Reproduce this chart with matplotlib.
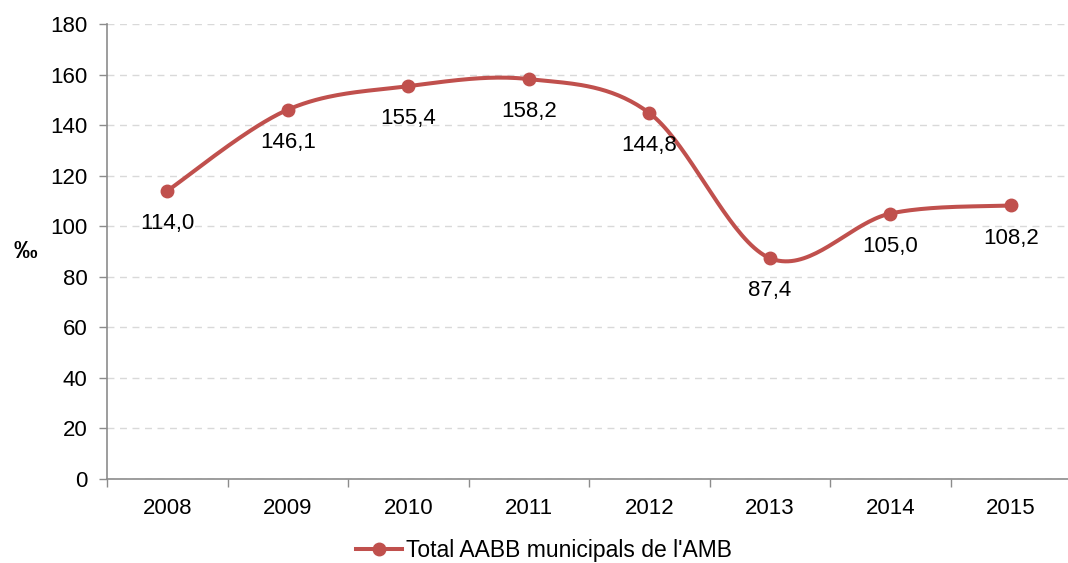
import numpy as np
import matplotlib
matplotlib.use("Agg")
import matplotlib.pyplot as plt

plt.rcParams['font.family'] = ['Liberation Sans', 'DejaVu Sans']

# Dades
anys = ['2008', '2009', '2010', '2011', '2012', '2013', '2014', '2015']
valors = [114.0, 146.1, 155.4, 158.2, 144.8, 87.4, 105.0, 108.2]
etiquetes = ['114,0', '146,1', '155,4', '158,2', '144,8', '87,4', '105,0', '108,2']
serie = "Total AABB municipals de l'AMB"

color = '#C0504D'

# Corba suavitzada (Catmull-Rom, com la línia suavitzada d'Excel)
def suavitza(x, y, n=40):
    x = np.asarray(x, float)
    y = np.asarray(y, float)
    px = np.concatenate([[x[0]], x, [x[-1]]])
    py = np.concatenate([[y[0]], y, [y[-1]]])
    xs, ys = [], []
    t = np.linspace(0, 1, n)
    for i in range(1, len(px) - 2):
        p0, p1, p2, p3 = [np.array([px[j], py[j]]) for j in (i - 1, i, i + 1, i + 2)]
        c1 = p1 + (p2 - p0) / 6
        c2 = p2 - (p3 - p1) / 6
        b = ((1 - t) ** 3)[:, None] * p1 + (3 * (1 - t) ** 2 * t)[:, None] * c1 \
            + (3 * (1 - t) * t ** 2)[:, None] * c2 + (t ** 3)[:, None] * p2
        xs.append(b[:, 0])
        ys.append(b[:, 1])
    return np.concatenate(xs), np.concatenate(ys)

pos = np.arange(len(anys))

fig = plt.figure(figsize=(10.68, 5.63), dpi=100)
ax = fig.add_axes([107 / 1068, 84 / 563, 964 / 1068, 455 / 563])

sx, sy = suavitza(pos, valors)
ax.plot(sx, sy, color=color, linewidth=2.9, solid_capstyle='round', zorder=3)
ax.plot(pos, valors, 'o', color=color, markersize=9, zorder=4)
# element per a la llegenda
ax.plot([], [], '-o', color=color, linewidth=2.9, markersize=9, label=serie)

for x, y, t in zip(pos, valors, etiquetes):
    ax.annotate(t, (x, y), xytext=(0, -23.5), textcoords='offset points',
                ha='center', va='center', fontsize=16, color='#000000')

ax.set_xlim(-0.5, len(anys) - 0.5)
ax.set_ylim(0, 180)
ax.set_yticks(range(0, 181, 20))
ax.set_xticks(pos)
ax.set_xticklabels(anys)
ax.set_xticks(np.arange(-0.5, len(anys), 1), minor=True)

ax.tick_params(axis='x', which='major', length=0, labelsize=16, pad=14)
ax.tick_params(axis='x', which='minor', length=6, color='#8C8C8C', width=1)
ax.tick_params(axis='y', length=6, color='#8C8C8C', width=1, labelsize=16, pad=8)

ax.grid(axis='y', linestyle=(0, (5, 4)), color='#D9D9D9', linewidth=1)
ax.set_axisbelow(True)
for s in ['top', 'right']:
    ax.spines[s].set_visible(False)
for s in ['left', 'bottom']:
    ax.spines[s].set_color('#8C8C8C')
    ax.spines[s].set_linewidth(1.2)

fig.text(25 / 1068, 1 - 251 / 563, '‰', fontsize=17, fontweight='bold',
         ha='center', va='center')

fig.legend(loc='center', bbox_to_anchor=(544 / 1068, 1 - 551 / 563),
           frameon=False, fontsize=16.5, handlelength=2.0, handletextpad=0.15)

fig.savefig('out.png', dpi=100)
